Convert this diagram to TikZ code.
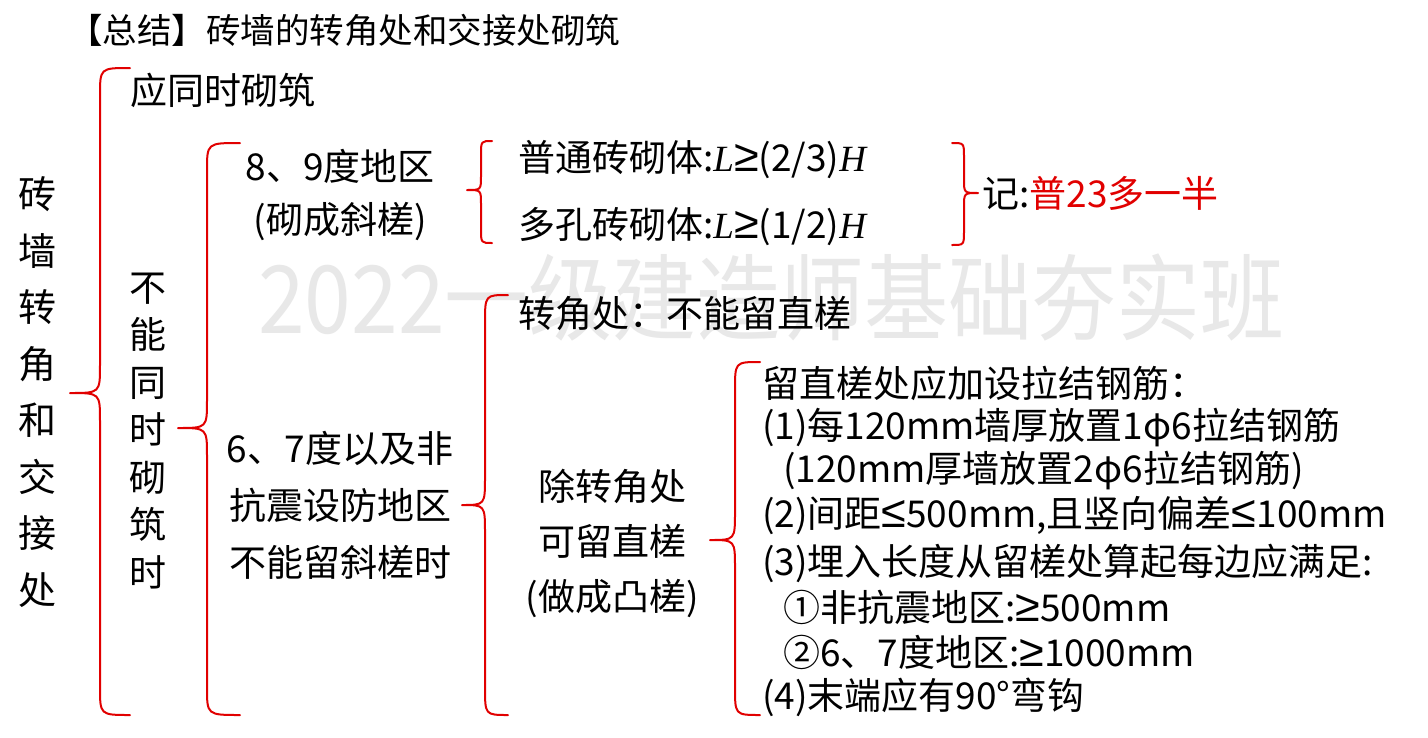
\documentclass[tikz,border=0pt]{standalone}
\usepackage{fontspec}
\setmainfont{Noto Sans CJK SC}
\newfontfamily\tnr{Liberation Serif}
\newfontfamily\symf{Liberation Sans}
\definecolor{bred}{RGB}{225,0,0}
\definecolor{wmark}{RGB}{232,232,232}
\newcommand\Lv{{\tnr\itshape L}}
\newcommand\Hv{{\tnr\itshape H}}
\newcommand\mygeq{{\symf\fontsize{45}{45}\selectfont ≥}}
\newcommand\myleq{{\symf\fontsize{45}{45}\selectfont ≤}}
% #1 end x, #2 line x, #3 tip x, #4 top y, #5 tip y, #6 bottom y, #7 hook size
\newcommand\mybrace[7]{%
  \draw[bracestyle] (#1,#4) .. controls (#2,#4) .. (#2,#4+#7) -- (#2,#5-#7)
    .. controls (#2,#5) .. (#3,#5) .. controls (#2,#5) .. (#2,#5+#7)
    -- (#2,#6-#7) .. controls (#2,#6) .. (#1,#6);}
\tikzset{
  bracestyle/.style={draw=bred, line width=2pt, line cap=round, line join=round},
  txt/.style={inner sep=0pt, font=\fontsize{37}{44}\selectfont},
  lft/.style={txt, anchor=west},
}
\begin{document}
\begin{tikzpicture}[x=1pt,y=-1pt]
\useasboundingbox[fill=white] (0,0) rectangle (1428,737);
% watermark
\node[inner sep=0pt, text=wmark, font=\fontsize{84}{84}\selectfont, anchor=west, yscale=1.12] (wm) at (258,298) {2022一级建造师基础夯实班};
% title
\node[inner sep=0pt, anchor=west, font=\fontsize{34.5}{40}\selectfont] (title) at (68,30) {【总结】砖墙的转角处和交接处砌筑};
% left column
\node[txt, align=center, font=\fontsize{38}{56.5}\selectfont] (root) at (38,392) {砖\\墙\\转\\角\\和\\交\\接\\处};
\node[lft] (same) at (130,90) {应同时砌筑};
\node[txt, align=center, font=\fontsize{37}{47.5}\selectfont] (notsame) at (148,431) {不\\能\\同\\时\\砌\\筑\\时};
\node[txt] (d89a) at (340,166) {8、9度地区};
\node[txt] (d89b) at (340,222) {(砌成斜槎)};
\node[lft] (pt) at (518,160) {普通砖砌体:\Lv{}\mygeq(2/3)\Hv};
\node[lft] (dk) at (518,227) {多孔砖砌体:\Lv{}\mygeq(1/2)\Hv};
\node[lft] (mem) at (982,193) {记:\textcolor{bred}{普23多一半}};
\node[txt, align=center, font=\fontsize{37}{57}\selectfont] (d67) at (340,505) {6、7度以及非\\抗震设防地区\\不能留斜槎时};
\node[lft] (corner) at (518,314) {转角处：不能留直槎};
\node[txt, align=center, font=\fontsize{37}{55}\selectfont] (exc) at (612,543) {除转角处\\可留直槎\\(做成凸槎)};
\node[lft] (r0) at (762,383) {留直槎处应加设拉结钢筋：};
\node[lft] (r1) at (762,428) {(1)每120mm墙厚放置1φ6拉结钢筋};
\node[lft] (r1b) at (783,471) {(120mm厚墙放置2φ6拉结钢筋)};
\node[lft] (r2) at (762,516) {(2)间距\myleq500mm,且竖向偏差\myleq100mm};
\node[lft] (r3) at (762,563) {(3)埋入长度从留槎处算起每边应满足:};
\node[lft] (r3a) at (783,607) {①非抗震地区:\mygeq500mm};
\node[lft] (r3b) at (783,652) {②6、7度地区:\mygeq1000mm};
\node[lft] (r4) at (762,697) {(4)末端应有90°弯钩};
% braces
\mybrace{130}{100}{70}{68}{393}{715}{28}
\mybrace{240}{207}{178}{143}{428}{715}{28}
\mybrace{492}{481}{467}{141}{190}{243}{14}
\mybrace{952}{964}{978}{143}{193}{245}{14}
\mybrace{508}{485}{462}{295}{505}{715}{28}
\mybrace{760}{735}{710}{362}{540}{715}{28}
\end{tikzpicture}
\end{document}
